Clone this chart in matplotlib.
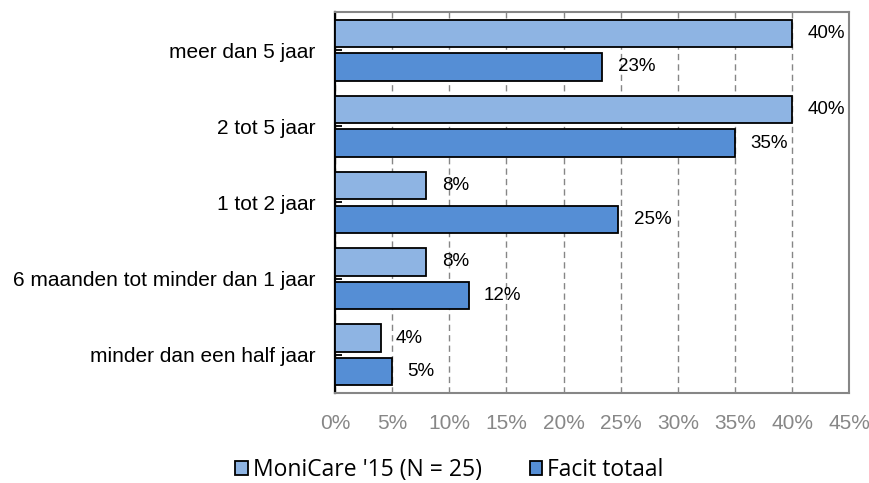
import matplotlib.pyplot as plt
import numpy as np

# categorieen en waarden (in %)
categories = ['meer dan 5 jaar', '2 tot 5 jaar', '1 tot 2 jaar',
              '6 maanden tot minder dan 1 jaar', 'minder dan een half jaar']
monicare = [40, 40, 8, 8, 4]
facit = [23.4, 35, 24.8, 11.7, 5]
series_names = ["MoniCare '15 (N = 25)", 'Facit totaal']
xticks = [0, 5, 10, 15, 20, 25, 30, 35, 40, 45]

plt.rcParams['font.family'] = ['Liberation Sans', 'DejaVu Sans']

fig = plt.figure(figsize=(8.69, 4.83), dpi=100)
ax = fig.add_axes([0.3855, 0.1863, 0.5918, 0.7889])

y = np.arange(len(categories))
h = 0.36
off = 0.22
b1 = ax.barh(y - off, monicare, height=h, color='#8EB4E3', edgecolor='black', linewidth=1.3, zorder=3)
b2 = ax.barh(y + off, facit, height=h, color='#558ED5', edgecolor='black', linewidth=1.3, zorder=3)

# data labels
for bars, vals in [(b1, monicare), (b2, facit)]:
    for bar, v in zip(bars, vals):
        ax.annotate('%d%%' % round(v), (v, bar.get_y() + bar.get_height() / 2),
                    xytext=(11, 0), textcoords='offset points',
                    ha='left', va='center', fontsize=13.5, color='black', zorder=4)

ax.set_xlim(0, 45)
ax.set_ylim(4.5, -0.5)
ax.set_xticks(xticks)
ax.set_xticklabels(['%d%%' % t for t in xticks])
ax.set_yticks(y)
ax.set_yticklabels(categories)

ax.tick_params(axis='x', length=0, pad=15, labelsize=15, labelcolor='#878787')
ax.tick_params(axis='y', direction='in', length=5, width=1.3, pad=14, labelsize=15)

ax.grid(axis='x', color='#868686', linestyle=(0, (4.5, 3)), linewidth=1.0, zorder=0)
ax.set_axisbelow(True)

ax.spines['left'].set_color('black')
ax.spines['left'].set_linewidth(1.6)
for s in ['top', 'right', 'bottom']:
    ax.spines[s].set_color('#868686')
    ax.spines[s].set_linewidth(1.5)

fig.legend([b1, b2], series_names, loc='center', bbox_to_anchor=(0.517, 0.027),
           ncol=2, frameon=False, handlelength=0.55, handleheight=0.55,
           handletextpad=0.2, columnspacing=2.1,
           prop={'family': 'Open Sans', 'size': 16.5})

plt.savefig('out.png', dpi=100)
